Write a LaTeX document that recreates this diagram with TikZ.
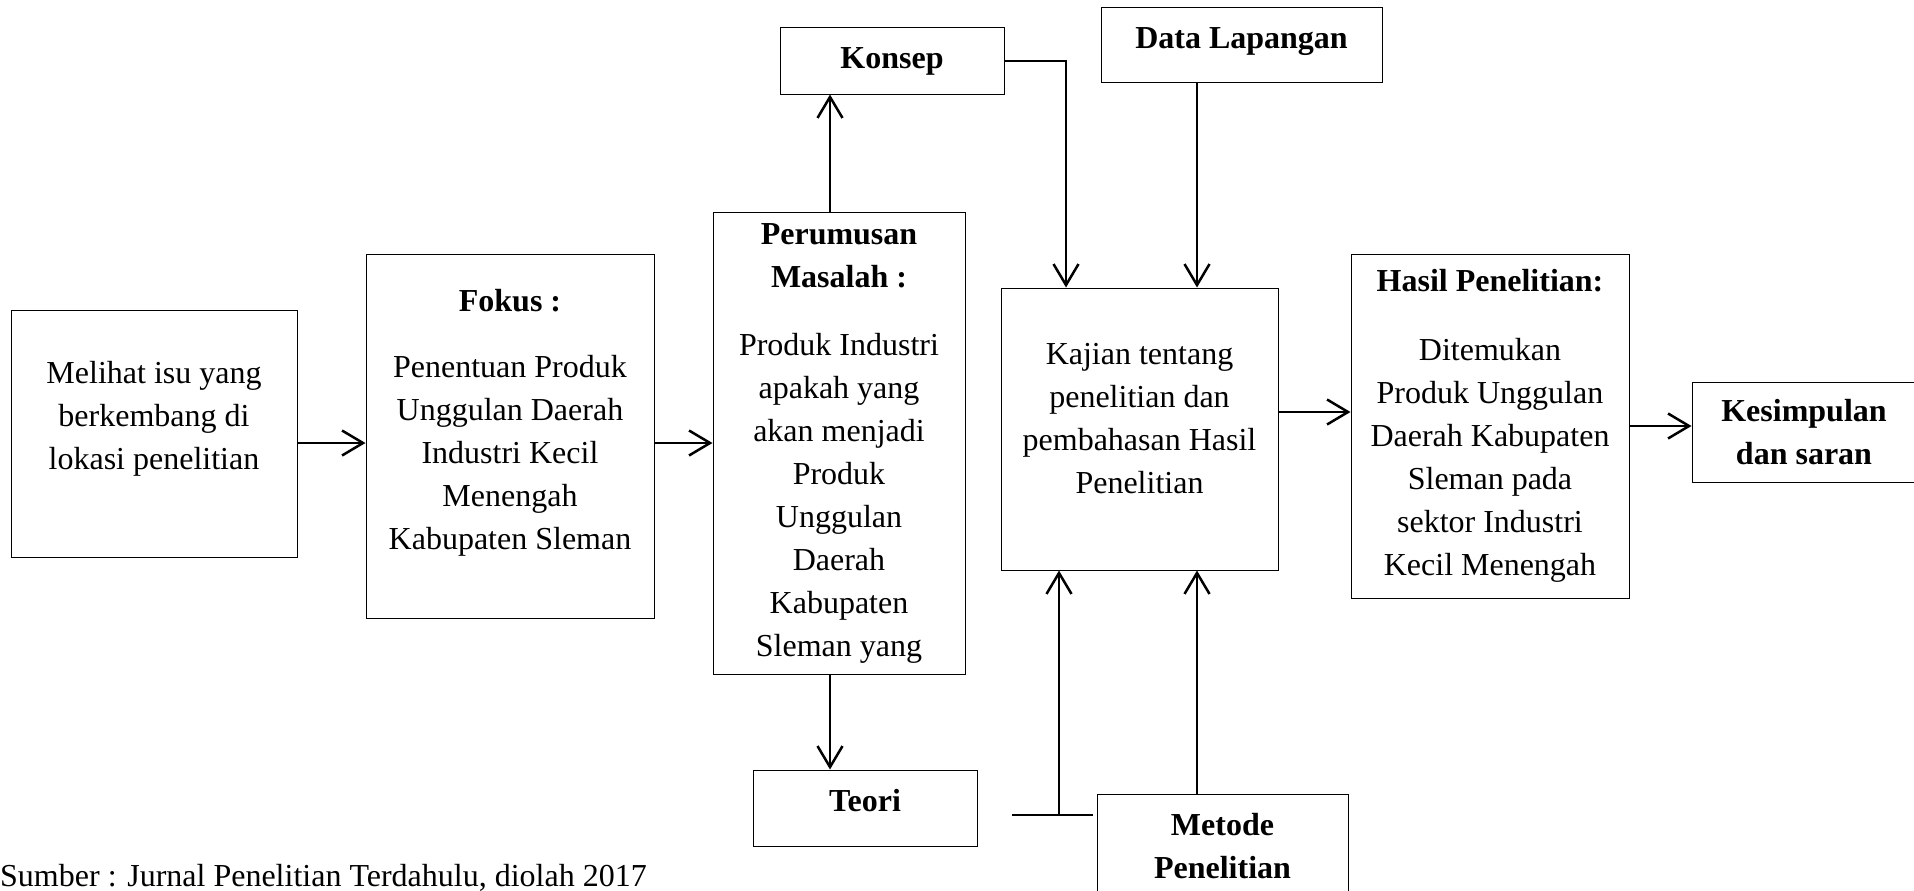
\documentclass[tikz,border=0pt]{standalone}
\usepackage{fontspec}
\setmainfont{Liberation Serif}
\usetikzlibrary{arrows.meta}

\begin{document}
\begin{tikzpicture}[x=1pt,y=-1pt,
  font=\fontsize{32}{43}\selectfont,
  kotak/.style={draw=black,line width=1pt,align=center,inner sep=0pt},
  panah/.style={line width=2.5pt,-{Straight Barb[length=21pt,width=25pt]}}]
\useasboundingbox (0,0) rectangle (1914,891);
\node[kotak,minimum width=286,minimum height=247,text depth=37pt](Isu) at (154,433.5) {Melihat isu yang\\berkembang di\\lokasi penelitian};
\node[kotak,minimum width=288,minimum height=364,text depth=33pt](Fokus) at (510,436) {\textbf{Fokus :}\\[23pt]Penentuan Produk\\Unggulan Daerah\\Industri Kecil\\Menengah\\Kabupaten Sleman};
\node[kotak,minimum width=252,minimum height=462](PM) at (839,443) {\textbf{Perumusan}\\\textbf{Masalah :}\\[25pt]Produk Industri\\apakah yang\\akan menjadi\\Produk\\Unggulan\\Daerah\\Kabupaten\\Sleman yang};
\node[kotak,minimum width=224,minimum height=66](Konsep) at (892,61) {\textbf{Konsep}};
\node[kotak,minimum width=281,minimum height=74,text depth=14pt](Data) at (1241.5,45) {\textbf{Data Lapangan}};
\node[kotak,minimum width=277,minimum height=282,text depth=22pt](Kajian) at (1139.5,429) {Kajian tentang\\penelitian dan\\pembahasan Hasil\\Penelitian};
\node[kotak,minimum width=278,minimum height=344](Hasil) at (1490,426) {\textbf{Hasil Penelitian:}\\[26pt]Ditemukan\\Produk Unggulan\\Daerah Kabupaten\\Sleman pada\\sektor Industri\\Kecil Menengah};
\node[kotak,minimum width=224,minimum height=100](KS) at (1804,432) {\textbf{Kesimpulan}\\\textbf{dan saran}};
\node[kotak,minimum width=224,minimum height=76,text depth=16pt](Teori) at (865,808) {\textbf{Teori}};
\node[kotak,minimum width=251,minimum height=105](Metode) at (1222.5,846.5) {\textbf{Metode}\\\textbf{Penelitian}};
\node[anchor=base west,inner sep=0pt](Sumber) at (0,886) {Sumber : Jurnal Penelitian Terdahulu, diolah 2017};

\coordinate (T1) at (1012,815);
\coordinate (T2) at (1093,815);

\draw[panah] (Isu.east |- PM) -- (Fokus.west |- PM);
\draw[panah] (Fokus.east |- PM) -- (PM.west);
\draw[panah] ([xshift=-9pt]PM.north) -- ([xshift=-9pt]PM.north |- Konsep.south);
\draw[panah] ([xshift=-9pt]PM.south) -- ([xshift=-9pt]PM.south |- Teori.north);
\draw[panah] (Konsep.east) -| ([xshift=-73.5pt]Kajian.north);
\draw[panah] ([xshift=57.5pt]Kajian.north |- Data.south) -- ([xshift=57.5pt]Kajian.north);
\draw[panah] ([xshift=57.5pt]Kajian.south |- Metode.north) -- ([xshift=57.5pt]Kajian.south);
\draw[line width=2.5pt] (T1) -- (T2);
\draw[panah] ([xshift=-80.5pt]Kajian.south |- T1) -- ([xshift=-80.5pt]Kajian.south);
\draw[panah] ([yshift=17pt]Kajian.east) -- ([yshift=17pt]Kajian.east -| Hasil.west);
\draw[panah] (Hasil.east) -- (Hasil.east -| KS.west);
\end{tikzpicture}
\end{document}
